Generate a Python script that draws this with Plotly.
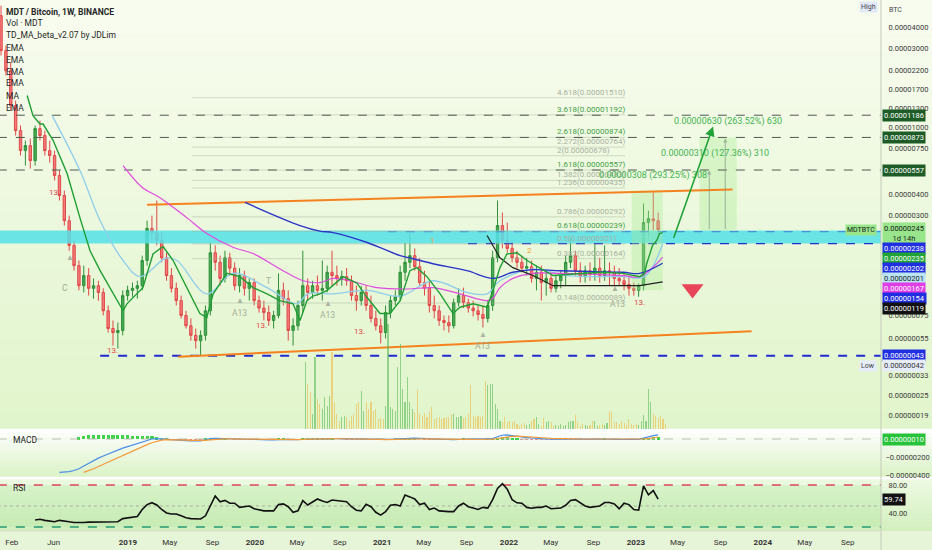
import numpy as np
import pandas as pd
import plotly.graph_objects as go

SAT = 1e-8  # all prices below are in satoshi

# ---- MDT/BTC candles (2-week bars, satoshi) ----
candle_open = [4680, 2890, 2190, 1355, 959, 728, 780, 634, 986, 896,
               728, 680, 516, 392, 277, 197, 149, 113, 130, 109,
               113, 103, 80, 62.6, 59.2, 61, 98.6, 106, 109, 113,
               160, 249, 235, 211, 166, 130, 109, 92, 75, 65,
               57, 53, 57, 80, 178, 156, 125, 166, 144, 113,
               130, 109, 118, 92, 83, 78, 70, 75, 106, 94.5,
               61, 65, 86, 113, 103, 113, 106, 109, 136, 130,
               125, 128, 121, 98.6, 92, 103, 86, 72, 65, 59.2,
               78, 92, 97, 136, 156, 171, 147, 118, 109, 86,
               80, 70, 68, 65, 89.5, 98.6, 89.5, 83, 80, 76,
               72, 86, 166, 259, 211, 189, 166, 156, 144, 147,
               125, 136, 118, 125, 109, 121, 130, 156, 171, 139,
               128, 139, 132, 144, 130, 139, 136, 125, 121, 115,
               109, 106, 113, 270, 284, 277]
candle_high = [5370, 3100, 2450, 1451, 1028, 836, 860, 1028, 1101, 959,
               836, 728, 553, 420, 297, 211, 160, 149, 144, 125,
               121, 109, 86, 70, 68, 106, 113, 118, 121, 171,
               277, 297, 366, 235, 178, 144, 118, 98.6, 80, 72,
               62.6, 61, 86, 205, 197, 171, 183, 178, 156, 144,
               139, 125, 125, 98.6, 92, 86, 80, 134, 118, 106,
               72, 92, 183, 125, 121, 130, 160, 149, 183, 149,
               139, 144, 130, 113, 113, 113, 98.6, 80, 72, 86,
               98.6, 106, 149, 205, 235, 189, 166, 139, 121, 98.6,
               86, 75, 75, 94.5, 109, 110, 94.5, 92, 86, 86,
               92, 183, 366, 310, 270, 211, 183, 171, 166, 160,
               149, 149, 139, 136, 130, 139, 171, 219, 183, 156,
               149, 156, 202, 166, 197, 156, 149, 144, 136, 130,
               118, 117, 351, 318, 409, 310]
candle_low = [2700, 2050, 1264, 896, 680, 592, 568, 592, 836, 680,
              617, 482, 366, 259, 183, 139, 106, 103, 98.6, 94.5,
              92, 75, 59.2, 49.5, 47.5, 57, 92, 97, 94.5, 106,
              149, 211, 197, 156, 121, 103, 86, 72, 62.6, 53,
              47.5, 43, 53, 75, 139, 113, 118, 130, 106, 103,
              98.6, 92, 86, 78, 70, 65, 62.6, 72, 86, 53,
              49.5, 61, 78, 92, 94.5, 98.6, 92, 103, 113, 113,
              113, 113, 92, 80, 86, 80, 68, 61, 51, 54.7,
              72, 86, 92, 121, 144, 139, 113, 98.6, 78, 72,
              65, 61, 59.2, 62.6, 85, 83, 78, 74, 70, 63.5,
              68, 80, 156, 189, 178, 156, 144, 136, 130, 118,
              106, 92, 98.6, 103, 103, 109, 113, 144, 130, 118,
              118, 121, 121, 118, 121, 113, 112, 113, 106, 98.6,
              98.6, 97, 106, 216, 242, 229]
candle_close = [2890, 2190, 1355, 959, 728, 780, 634, 986, 896, 728,
                680, 516, 392, 277, 197, 149, 113, 130, 109, 113,
                103, 80, 62.6, 59.2, 61, 98.6, 106, 109, 113, 160,
                249, 235, 211, 166, 130, 109, 92, 75, 65, 57,
                53, 57, 80, 178, 156, 125, 166, 144, 113, 130,
                109, 118, 92, 83, 78, 70, 75, 106, 94.5, 61,
                65, 86, 113, 103, 113, 106, 109, 136, 130, 125,
                128, 121, 98.6, 92, 103, 86, 72, 65, 59.2, 78,
                92, 97, 136, 156, 171, 147, 118, 109, 86, 80,
                70, 68, 65, 89.5, 98.6, 89.5, 83, 80, 76, 72,
                86, 166, 259, 211, 189, 166, 156, 144, 147, 125,
                136, 118, 125, 109, 121, 130, 156, 171, 139, 128,
                139, 132, 144, 130, 139, 136, 125, 121, 115, 109,
                106, 113, 270, 285, 277, 245]
candle_dates = pd.date_range("2018-01-01", periods=len(candle_close), freq="14D")

# ---- RSI / MACD (one value per candle) ----
rsi = [None] * 7 + [30, 31, 29.5, 28.6, 27.5, 29.5, 28, 27.5, 26.5, 26,
                    26.5, 27, 27, 26.6, 26.6, 26.8, 27.2, 27.5, 32, 33,
                    33.5, 35, 45, 52, 54.7, 51.4, 45, 40, 38.6, 38.6,
                    36, 33.3, 32, 31.4, 31.4, 36, 50, 64.3, 56, 58,
                    54, 54, 48, 49, 50, 46, 44.5, 43, 43, 43,
                    52, 53, 49, 41, 43, 57.6, 51.4, 56, 60, 57,
                    55, 58.6, 57.5, 57, 56, 49, 44, 43, 52.4, 49,
                    41, 37, 42, 51, 52, 50, 65.7, 63, 60, 52,
                    54, 45, 47, 43, 42, 42, 42, 50, 54, 49,
                    47, 45, 48, 47, 59, 75, 82, 74, 59, 54.5,
                    54, 48, 46.7, 48, 48, 50, 46, 46, 47, 51,
                    58, 59, 54, 50, 48, 49, 50, 55, 55, 53,
                    46, 54, 52, 45, 44, 78.6, 66, 72, 59.74]
macd_line = [None] * 12 + [-370, -368, -362, -350, -330, -300, -268, -238,
                           -212, -188, -165, -143, -122, -102, -85, -68, -52, -35,
                           -15, 0, 5, 0, -5, -10, -12, -15, -18, -20,
                           -22, -20, -10, 5, 8, 6, 2, 0, -2, -4,
                           -6, -6, -8, -9, -10, -10, -9, -5, -3, -5,
                           -8, -6, 0, 3, 3, 4, 5, 6, 5, 4,
                           3, 2, 0, -2, -3, -4, -6, -8, -8, -7,
                           -5, -2, 2, 8, 10, 9, 6, 3, 0, -3,
                           -5, -7, -8, -7, -5, -4, -4, -4, -4, -4,
                           -3, 5, 25, 42, 45, 40, 32, 24, 16, 10,
                           5, 2, 0, -2, -3, -4, -3, 0, 0, -1,
                           -2, -2, -2, -1, 0, -1, -2, -3, -3, -4,
                           -4, -4, 10, 25, 38, 45]
macd_signal = [None] * 17 + [-370, -352, -330,
                             -305, -280, -255, -230, -205, -180, -155, -130, -108, -85,
                             -62, -42, -25, -12, -6, -6, -8, -10, -13, -16,
                             -18, -19, -16, -9, -3, 1, 2, 1, 0, -1,
                             -3, -4, -5, -6, -7, -8, -8, -7, -6, -5,
                             -6, -6, -4, -2, 0, 1, 3, 4, 4, 4,
                             3, 3, 2, 1, 0, -1, -3, -4, -5, -6,
                             -5, -4, -2, 1, 4, 6, 6, 5, 3, 1,
                             -1, -3, -4, -5, -5, -5, -4, -4, -4, -4,
                             -4, -2, 5, 15, 24, 30, 31, 29, 26, 22,
                             18, 14, 11, 8, 5, 3, 1, 1, 1, 0,
                             0, -1, -1, -1, -1, -1, -1, -2, -2, -2,
                             -3, -3, 0, 6, 14, 22]
macd_hist = [None] * 16 + [20, 35, 45, 48,
                           48, 47, 46, 45, 44, 42, 40, 38, 36, 35,
                           33, 30, 20, 10, 2, -3, -4, -5, -5, -4,
                           -4, -1, 4, 10, 9, 4, 1, 0, -1, -2,
                           -2, -2, -3, -3, -3, -2, -1, 2, 3, 0,
                           -2, 0, 3, 4, 3, 3, 2, 2, 1, 0,
                           0, -1, -2, -3, -3, -3, -3, -4, -3, -1,
                           0, 2, 4, 6, 5, 3, 0, -2, -3, -4,
                           -4, -4, -3, -2, 0, 1, 0, 0, 0, 0,
                           1, 6, 16, 22, 17, 8, 1, -5, -8, -10,
                           -11, -10, -9, -8, -7, -6, -4, -1, -1, -1,
                           -2, -1, -1, 0, 1, 0, -1, -1, -1, -2,
                           -1, -1, 8, 16, 20, 19]

# ---- weekly volume (M MDT) from late May 2020 ----
vol_mdt = [67, 45, 37, 15, 72, 30, 25, 20, 32, 23,
           33, 77, 27, 15, 8, 12, 13, 12, 8, 13,
           15, 25, 27, 38, 18, 27, 20, 27, 18, 20,
           10, 11, 10, 23, 105, 22, 20, 18, 62, 85,
           40, 27, 52, 27, 20, 17, 39, 15, 13, 16,
           12, 17, 22, 10, 11, 12, 10, 11, 12, 12,
           15, 15, 12, 12, 13, 11, 12, 15, 44, 13,
           12, 13, 12, 13, 48, 44, 45, 45, 25, 20,
           8, 7, 12, 7, 8, 7, 8, 5, 3, 5, 6, 4, 5,
           8, 10, 12, 5, 3, 11, 7, 8, 7, 3,
           4, 3, 5, 3, 4, 7, 8, 8, 14, 7,
           3, 5, 4, 3, 4, 8, 8, 3, 4, 5, 4, 6, 18,
           17, 7, 7, 5, 8, 6, 4, 10, 5, 4,
           5, 4, 8, 14, 8, 40, 27, 15, 13, 11,
           13, 10, 5]
vol_dates = pd.date_range("2020-05-25", periods=len(vol_mdt), freq="7D")

# ---- overlay studies (sat) ----
td_ma_dates = ["2018-03-17", "2018-04-03", "2018-04-23", "2018-05-02", "2018-05-31", "2018-07-10",
               "2018-08-16", "2018-09-14", "2018-10-13", "2018-11-19", "2018-12-18", "2018-12-29",
               "2019-02-13", "2019-03-14", "2019-04-12", "2019-05-11", "2019-06-20", "2019-07-27",
               "2019-08-16", "2019-09-03", "2019-10-13", "2019-11-19", "2019-12-27", "2020-02-05",
               "2020-03-13", "2020-04-20", "2020-05-10", "2020-05-30", "2020-06-16", "2020-07-06",
               "2020-07-27", "2020-09-11", "2020-10-21", "2020-11-19", "2020-12-26", "2021-01-24",
               "2021-02-22", "2021-03-22", "2021-04-11", "2021-05-10", "2021-06-17", "2021-07-24",
               "2021-08-13", "2021-09-20", "2021-10-30", "2021-11-16", "2021-12-06", "2021-12-26",
               "2022-01-24", "2022-02-22", "2022-03-31", "2022-05-08", "2022-09-20", "2022-11-25",
               "2023-01-12", "2023-01-26", "2023-02-01", "2023-02-10", "2023-02-18", "2023-03-02",
               "2023-03-10", "2023-03-19"]
td_ma = [1555, 1180, 1050, 1050, 836, 531,
         288, 183, 139, 101, 80, 88,
         110, 175, 194, 160, 110, 77,
         73, 101, 134, 128, 110, 101,
         92, 88, 70, 92, 98, 101,
         106, 128, 117, 96, 77, 77,
         92, 139, 145, 128, 101, 77,
         84, 88, 84, 106, 145, 175,
         178, 160, 144, 130, 136, 134,
         128, 134, 153, 178, 197, 211,
         232, 235]

ema_fast_dates = ["2018-05-28", "2018-08-16", "2018-10-13", "2018-12-18", "2019-02-05", "2019-04-20",
                  "2019-05-22", "2019-08-16", "2019-10-30", "2020-02-05", "2020-05-01", "2020-06-01",
                  "2020-08-13", "2020-11-19", "2021-02-22", "2021-05-27", "2021-09-02", "2021-10-30",
                  "2021-12-06", "2022-03-11", "2022-06-17", "2022-11-25", "2023-01-26", "2023-03-19"]
ema_fast = [1180, 553, 277, 160, 128, 165,
            160, 101, 134, 110, 88, 101,
            101, 106, 98, 121, 103, 101,
            121, 142, 130, 128, 128, 201]

ma_dates = ["2018-12-18", "2019-02-13", "2019-04-03", "2019-06-20", "2019-08-16", "2019-10-30",
            "2019-12-27", "2020-03-22", "2020-05-19", "2020-07-06", "2020-08-13", "2020-10-01",
            "2020-12-17", "2021-03-14", "2021-05-27", "2021-08-13", "2021-10-30", "2021-11-16",
            "2021-12-06", "2022-01-12", "2022-03-11", "2022-05-28", "2022-11-25", "2023-01-12",
            "2023-03-19"]
ma_vals = [592, 435, 380, 288, 232, 192,
           176, 139, 121, 118, 125, 121,
           110, 108, 110, 101, 92, 95,
           110, 125, 134, 134, 130, 128,
           167]

ema200_dates = ["2019-12-04", "2020-05-10", "2020-07-06", "2020-08-13", "2020-11-19", "2021-02-22",
                "2021-03-31", "2021-05-27", "2021-09-02", "2021-11-16", "2022-01-12", "2022-03-11",
                "2022-05-28", "2022-11-25", "2023-01-12", "2023-03-19"]
ema200 = [356, 259, 240, 235, 205, 171,
          164, 153, 139, 125, 136, 141,
          139, 136, 134, 154]

trend_dates = ["2021-10-30", "2021-12-06", "2022-01-12", "2022-03-11", "2022-05-08", "2022-06-17",
               "2023-01-12", "2023-03-19"]
trend_vals = [226, 166, 145, 130, 113, 113, 113, 119]

channel_top_dates, channel_top = ["2019-02-25", "2023-10-06"], [345, 426]
channel_bot_dates, channel_bot = ["2019-05-25", "2023-11-30"], [42.5, 60.3]

fib_levels = [4.618, 3.618, 2.618, 2.272, 2, 1.618, 1.382, 1.236, 0.786, 0.618, 0.5, 0.382, 0.148]
fib_prices = [1510, 1192, 874, 764, 678, 557, 483, 435, 292, 239, 201, 164, 89]
fib_main = [3.618, 2.618, 1.618, 0.618]

target_levels = [1186, 873, 557]
support_level = 43
zone_low, zone_high = 202, 242
zone_lines = [238, 202]

projections = [("2023-04-14", 1086, "0.00000630 (263.52%) 630"),
               ("2023-03-09", 699, "0.00000310 (127.36%) 310"),
               ("2022-09-12", 516, "0.00000308 (293.25%) 308")]

td_counts = [("2018-06-05", 408, "13."), ("2018-11-19", 46, "13."), ("2020-01-21", 65, "13."),
             ("2020-10-28", 60, "13."), ("2023-01-12", 90, "13.")]
td_setups = [("2019-11-18", 78, "A13"), ("2020-07-28", 75, "A13"), ("2021-10-18", 49, "A13"),
             ("2022-11-08", 88, "A13"), ("2018-07-04", 110, "C"), ("2020-02-10", 120, "T")]
td_arrows = [("2018-07-18", 166), ("2019-11-18", 92), ("2020-07-28", 88), ("2021-10-18", 58),
             ("2022-11-02", 109)]

last_labels = [("0.00000238", "#1f2ee0", "white"), ("0.00000235", "#21a336", "white"),
               ("0.00000202", "#1f2ee0", "white"), ("0.00000201", "#b9e4f4", "#222"),
               ("0.00000167", "#e03ce8", "white"), ("0.00000154", "#1f2ee0", "white"),
               ("0.00000119", "#111111", "white")]

tick_dates = ["2018-02-01", "2018-06-01", "2019-01-01", "2019-05-01", "2019-09-01", "2020-01-01",
              "2020-05-01", "2020-09-01", "2021-01-01", "2021-05-01", "2021-09-01", "2022-01-01",
              "2022-05-01", "2022-09-01", "2023-01-01", "2023-05-01", "2023-09-01", "2024-01-01",
              "2024-05-01", "2024-09-01"]
tick_text = ["Feb", "Jun", "<b>2019</b>", "May", "Sep", "<b>2020</b>", "May", "Sep", "<b>2021</b>",
             "May", "Sep", "<b>2022</b>", "May", "Sep", "<b>2023</b>", "May", "Sep", "<b>2024</b>",
             "May", "Sep"]
price_ticks = [4e-5, 3e-5, 2.2e-5, 1.7e-5, 1.3e-5, 1e-5, 7.5e-6, 4e-6, 3e-6, 7.5e-7, 5.5e-7,
               3.3e-7, 2.5e-7, 1.9e-7]

X0, X1 = "2017-11-01", "2025-03-01"
FONT = "Roboto, Arial, sans-serif"
AX_FONT = 7.5
PH = 531  # plot height in px


def ly(p):
    return float(np.log10(p * SAT))


def sats(vals):
    return [None if v is None else v * SAT for v in vals]


def pane(top_px, bot_px):
    return [(PH - bot_px) / PH, (PH - top_px) / PH]


fig = go.Figure()

# cyan support zone and its dashed edges
fig.add_trace(go.Scatter(x=[X0, X1, X1, X0], y=sats([zone_high, zone_high, zone_low, zone_low]),
                         fill="toself", fillcolor="rgba(85,225,232,0.85)", line_width=0, mode="lines"))
fig.add_trace(go.Scatter(x=["2021-01-17", X1], y=sats([zone_lines[0]] * 2), mode="lines",
                         line=dict(color="#3d7fd6", width=1, dash="dash")))
fig.add_trace(go.Scatter(x=["2021-09-05", X1], y=sats([zone_lines[1]] * 2), mode="lines",
                         line=dict(color="#2230c8", width=1.2, dash="dash")))

# projection glow areas
fig.add_trace(go.Scatter(x=["2022-12-20", "2023-03-19", "2023-03-19", "2022-12-20"],
                         y=sats([420, 420, 106, 106]), fill="toself",
                         fillcolor="rgba(170,235,150,0.35)", line_width=0, mode="lines"))
fig.add_trace(go.Scatter(x=["2023-07-03", "2023-10-18", "2023-10-18", "2023-07-03"],
                         y=sats([873, 873, 242, 242]), fill="toself",
                         fillcolor="rgba(170,235,150,0.35)", line_width=0, mode="lines"))

# fib levels
for lvl, p in zip(fib_levels, fib_prices):
    fig.add_trace(go.Scatter(x=["2019-07-04", "2022-12-01"], y=[p * SAT] * 2, mode="lines",
                             line=dict(color="rgba(165,175,155,0.45)", width=1)))

# target levels
for p in target_levels:
    fig.add_trace(go.Scatter(x=[X0, X1], y=[p * SAT] * 2, mode="lines",
                             line=dict(color="#4d5a4d", width=1, dash="dash")))
fig.add_trace(go.Scatter(x=["2018-10-13", X1], y=[support_level * SAT] * 2, mode="lines",
                         line=dict(color="#1f2bd0", width=2, dash="dash")))

# channel
fig.add_trace(go.Scatter(x=channel_top_dates, y=sats(channel_top), mode="lines",
                         line=dict(color="#f5821f", width=2)))
fig.add_trace(go.Scatter(x=channel_bot_dates, y=sats(channel_bot), mode="lines",
                         line=dict(color="#f5821f", width=2)))

# moving averages
fig.add_trace(go.Scatter(x=ema_fast_dates, y=sats(ema_fast), mode="lines",
                         line=dict(color="#8fcdec", width=1.3, shape="spline")))
fig.add_trace(go.Scatter(x=ma_dates, y=sats(ma_vals), mode="lines",
                         line=dict(color="#e04be0", width=1.2, shape="spline")))
fig.add_trace(go.Scatter(x=ema200_dates, y=sats(ema200), mode="lines",
                         line=dict(color="#2a34c8", width=1.4, shape="spline")))
fig.add_trace(go.Scatter(x=trend_dates, y=sats(trend_vals), mode="lines",
                         line=dict(color="#222222", width=1.2)))

# candles
fig.add_trace(go.Candlestick(x=candle_dates, open=sats(candle_open), high=sats(candle_high),
                             low=sats(candle_low), close=sats(candle_close),
                             increasing=dict(line=dict(color="#2f8f3a", width=1), fillcolor="#46ab55"),
                             decreasing=dict(line=dict(color="#e04848", width=1), fillcolor="#f47b7b"),
                             whiskerwidth=0))
fig.add_trace(go.Scatter(x=td_ma_dates, y=sats(td_ma), mode="lines",
                         line=dict(color="#1f9e33", width=1.4)))

# target marker
fig.add_trace(go.Scatter(x=["2023-06-13"], y=[108 * SAT], mode="markers",
                         marker=dict(symbol="triangle-down", size=19, color="#e8455a")))

# volume overlay
t0 = pd.Timestamp("2018-01-01")
vol_colors = []
for d in vol_dates:
    k = min((d - t0).days // 14, len(candle_close) - 1)
    up = candle_close[k] >= candle_open[k]
    vol_colors.append("rgba(90,185,90,0.6)" if up else "rgba(240,185,70,0.6)")
fig.add_trace(go.Bar(x=vol_dates, y=vol_mdt, marker_color=vol_colors, marker_line_width=0,
                     width=3.2 * 86400000, yaxis="y4"))

# MACD
hist_colors = ["#3fd24a" if (v or 0) >= 0 else "#f08a8a" for v in macd_hist]
fig.add_trace(go.Bar(x=candle_dates, y=sats(macd_hist), marker_color=hist_colors,
                     marker_line_width=0, width=9 * 86400000, yaxis="y2"))
fig.add_trace(go.Scatter(x=[X0, X1], y=[0, 0], mode="lines", yaxis="y2",
                         line=dict(color="#b8beb0", width=1, dash="dash")))
fig.add_trace(go.Scatter(x=candle_dates, y=sats(macd_line), mode="lines", yaxis="y2",
                         line=dict(color="#4a8ee8", width=1.2)))
fig.add_trace(go.Scatter(x=candle_dates, y=sats(macd_signal), mode="lines", yaxis="y2",
                         line=dict(color="#f39a3a", width=1.2)))

# RSI
fig.add_trace(go.Scatter(x=[X0, X1, X1, X0], y=[80, 80, 20, 20], fill="toself", yaxis="y3",
                         fillcolor="rgba(160,225,140,0.25)", line_width=0, mode="lines"))
fig.add_trace(go.Scatter(x=[X0, X1], y=[80, 80], mode="lines", yaxis="y3",
                         line=dict(color="#e0455a", width=1.5, dash="dash")))
fig.add_trace(go.Scatter(x=[X0, X1], y=[50, 50], mode="lines", yaxis="y3",
                         line=dict(color="#a8b0a0", width=1, dash="dot")))
fig.add_trace(go.Scatter(x=[X0, X1], y=[20, 20], mode="lines", yaxis="y3",
                         line=dict(color="#279a72", width=1.5, dash="dash")))
fig.add_trace(go.Scatter(x=candle_dates, y=rsi, mode="lines", yaxis="y3",
                         line=dict(color="#111111", width=1.6)))

# ---- backgrounds ----
shapes = []


def blend(c1, c2, t):
    return "rgb(%d,%d,%d)" % tuple(round(a + (b - a) * t) for a, b in zip(c1, c2))


def gradient(y_top, y_bot, c_top, c_bot, steps=24):
    for k in range(steps):
        a = y_top - (y_top - y_bot) * k / steps
        b = y_top - (y_top - y_bot) * (k + 1) / steps
        shapes.append(dict(type="rect", xref="paper", yref="paper", x0=-0.01, x1=1.08, y0=b, y1=a,
                           fillcolor=blend(c_top, c_bot, (k + 0.5) / steps), line_width=0,
                           layer="below"))


main_dom, macd_dom, rsi_dom = pane(0, 429), pane(431, 477), pane(480, 531)
gradient(1.0, main_dom[0], (249, 252, 240), (224, 245, 203))
gradient(main_dom[0], macd_dom[0], (255, 255, 255), (218, 242, 198), steps=12)
gradient(macd_dom[0], 0, (238, 250, 228), (210, 239, 190), steps=12)
gradient(0, -0.04, (230, 244, 216), (230, 244, 216), steps=1)
for yb in (main_dom[0], macd_dom[0]):
    shapes.append(dict(type="rect", xref="paper", yref="paper", x0=-0.01, x1=1.08,
                       y0=yb - 2.2 / PH, y1=yb + 0.3 / PH, fillcolor="white", line_width=0,
                       layer="below"))
shapes.append(dict(type="line", xref="paper", yref="paper", x0=1, x1=1, y0=-0.04, y1=1,
                   line=dict(color="#c3cbb8", width=1)))
shapes.append(dict(type="line", xref="paper", yref="paper", x0=0, x1=1, y0=0, y1=0,
                   line=dict(color="#d5dccb", width=1)))

# ---- annotations ----
ann = []
legend_lines = ["<b>MDT / Bitcoin, 1W, BINANCE</b>", "Vol · MDT", "TD_MA_beta_v2.07 by JDLim",
                "EMA", "EMA", "EMA", "EMA", "MA", "EMA"]
for k, (txt, py) in enumerate(zip(legend_lines, [12, 23, 35, 48, 60, 72, 83, 96, 108])):
    ann.append(dict(text=txt, xref="paper", yref="paper", x=0.004, y=1 - py / PH, xanchor="left",
                    yanchor="middle", showarrow=False, font=dict(size=8.5, color="#262626")))
ann.append(dict(text="MACD", xref="paper", yref="paper", x=0.012, y=1 - 440 / PH, xanchor="left",
                yanchor="middle", showarrow=False, font=dict(size=8.5, color="#262626")))
ann.append(dict(text="RSI", xref="paper", yref="paper", x=0.012, y=1 - 488 / PH, xanchor="left",
                yanchor="middle", showarrow=False, font=dict(size=8.5, color="#262626")))
ann.append(dict(text="BTC", xref="paper", yref="paper", x=1, y=1, xanchor="left", yanchor="top",
                xshift=6, yshift=-4, showarrow=False, font=dict(size=7, color="#444")))
ann.append(dict(text="High", xref="paper", yref="paper", x=1, y=1, xanchor="right", yanchor="top",
                xshift=-3, yshift=-1, showarrow=False, bgcolor="#e2e9f8",
                font=dict(size=7, color="#444")))

for lvl, p in zip(fib_levels, fib_prices):
    col = "#43a047" if lvl in fib_main else "#a8b0a0"
    ann.append(dict(text=f"{lvl:g}({p * SAT:.8f})", x="2022-05-13", y=ly(p), xref="x", yref="y",
                    xanchor="left", yanchor="bottom", yshift=-1, showarrow=False,
                    font=dict(size=AX_FONT + 0.5, color=col)))
for d, p, txt in projections:
    ann.append(dict(text=txt, x=d, y=ly(p), xref="x", yref="y", xanchor="left", yanchor="middle",
                    showarrow=False, font=dict(size=9, color="#3fb34f")))
ann.append(dict(x="2023-08-11", y=ly(1014), xref="x", yref="y", ax=-40, ay=113, showarrow=True,
                arrowhead=2, arrowsize=1.2, arrowwidth=1.6, arrowcolor="#22a33a", text=""))
for d, top, h in [("2023-07-31", 553, 60), ("2023-09-15", 860, 92)]:
    ann.append(dict(x=d, y=ly(top), xref="x", yref="y", ax=0, ay=h, showarrow=True, arrowhead=2,
                    arrowsize=0.8, arrowwidth=1, arrowcolor="rgba(130,150,130,0.7)", text=""))
for d, p, txt in td_counts:
    ann.append(dict(text=txt, x=d, y=ly(p), xref="x", yref="y", showarrow=False,
                    font=dict(size=8, color="#e04848")))
for d, p, txt in td_setups:
    ann.append(dict(text=txt, x=d, y=ly(p), xref="x", yref="y", showarrow=False,
                    font=dict(size=8.5, color="#a3ad98")))
for d, p in td_arrows:
    ann.append(dict(text="▲", x=d, y=ly(p), xref="x", yref="y", showarrow=False,
                    font=dict(size=8, color="#a9b3a0")))
ann.append(dict(text="1", x="2021-05-27", y=ly(211), xref="x", yref="y", showarrow=False,
                font=dict(size=8, color="#f0a030")))
ann.append(dict(text="2", x="2022-02-28", y=ly(183), xref="x", yref="y", showarrow=False,
                font=dict(size=8, color="#f0a030")))


def badge(text, y, yref, bg, fg, yshift=0):
    ann.append(dict(text=text, x=1, xref="paper", y=y, yref=yref, xanchor="left",
                    yanchor="middle", xshift=1, yshift=yshift, showarrow=False, bgcolor=bg,
                    borderpad=1, font=dict(size=AX_FONT, color=fg)))


for p in target_levels:
    badge(f"{p * SAT:.8f}", ly(p), "y", "#1d5c27", "white")
badge(f"{support_level * SAT:.8f}", ly(support_level), "y", "#1f2ee0", "white")
badge("0.00000042", ly(support_level), "y", "#e6ecf8", "#333", yshift=-10)
ann.append(dict(text="Low", x=1, xref="paper", y=ly(support_level), yref="y", xanchor="right",
                yanchor="middle", xshift=-4, yshift=-10, showarrow=False, bgcolor="#e6ecf8",
                font=dict(size=7, color="#444")))
last_close = candle_close[-1]
badge(f"{last_close * SAT:.8f}<br>1d 14h", ly(last_close), "y", "#98e58c", "#1a1a1a", yshift=-4)
ann.append(dict(text="MDTBTC", x=1, xref="paper", y=ly(last_close), yref="y", xanchor="right",
                yanchor="middle", xshift=-4, yshift=0, showarrow=False, bgcolor="#98e58c",
                font=dict(size=7, color="#1a1a1a")))
for k, (txt, bg, fg) in enumerate(last_labels):
    badge(txt, ly(last_close), "y", bg, fg, yshift=-19 - 10 * k)
badge("0.00000010", 0, "y2", "#25c23a", "white")
badge("59.74", rsi[-1], "y3", "#111111", "white")

tick_font = dict(size=AX_FONT, color="#3a3a3a")
fig.update_layout(
    width=932, height=550,
    margin=dict(l=0, r=51, t=0, b=19),
    paper_bgcolor="#e6f4d8", plot_bgcolor="rgba(0,0,0,0)",
    font=dict(family=FONT, size=8, color="#333"),
    showlegend=False, hovermode=False, bargap=0,
    shapes=shapes, annotations=ann,
    xaxis=dict(type="date", range=["2017-12-29", "2024-12-06"], anchor="y3",
               tickvals=tick_dates, ticktext=tick_text, showgrid=False, zeroline=False,
               ticks="outside", ticklen=3, tickcolor="rgba(0,0,0,0)",
               tickfont=dict(size=8, color="#333"), rangeslider=dict(visible=False)),
    yaxis=dict(type="log", domain=main_dom, range=[-6.805, -4.236], side="right", anchor="x",
               tickvals=price_ticks, ticktext=[f"{v:.8f}" for v in price_ticks],
               showgrid=False, zeroline=False, ticks="outside", ticklen=5,
               tickcolor="rgba(0,0,0,0)", tickfont=tick_font),
    yaxis2=dict(domain=macd_dom, range=[-4.22e-6, 0.89e-6], side="right", anchor="x",
                tickvals=[-2e-6, -4e-6], ticktext=["−0.00000200", "−0.00000400"],
                showgrid=False, zeroline=False, ticks="outside", ticklen=2,
                tickcolor="rgba(0,0,0,0)", tickfont=tick_font),
    yaxis3=dict(domain=rsi_dom, range=[14.3, 87.1], side="right", anchor="x",
                tickvals=[80, 40], ticktext=["80.00", "40.00"], showgrid=False, zeroline=False,
                ticks="outside", ticklen=5, tickcolor="rgba(0,0,0,0)", tickfont=tick_font),
    yaxis4=dict(overlaying="y", range=[0, 430], visible=False, showgrid=False),
)

# the page has a default 8px body margin; drop it so the chart sits at the window corner
fig.write_html("out.html", config={"displayModeBar": False},
               post_script="document.body.style.margin='0';")
